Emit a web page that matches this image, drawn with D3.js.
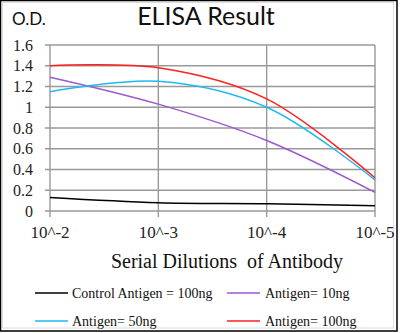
<!DOCTYPE html>
<html><head><meta charset="utf-8">
<script src="https://cdn.jsdelivr.net/npm/d3@7"></script>
<style>body{margin:0;background:#fff}svg{display:block}</style>
</head><body>
<svg id="c" width="400" height="333"></svg>
<script>
const dilutions = ["10^-2","10^-3","10^-4","10^-5"];
const yTicks = [0,0.2,0.4,0.6,0.8,1,1.2,1.4,1.6];
const yTickLabels = ["0","0.2","0.4","0.6","0.8","1","1.2","1.4","1.6"];
const control100 = [0.13,0.08,0.07,0.05];
const antigen10 = [1.29,1.03,0.68,0.18];
const antigen50 = [1.15,1.25,1.0,0.30];
const antigen100 = [1.40,1.38,1.08,0.32];
const seriesNames = ["Control Antigen = 100ng","Antigen= 10ng","Antigen= 50ng","Antigen= 100ng"];
const seriesColors = ["#000000","#9b59d0","#1fb8f0","#ff2020"];
const seriesData = [control100, antigen10, antigen50, antigen100];

const svg = d3.select("#c");
const serif = "'Liberation Serif','Times New Roman',serif";
const sans = "Lato,'Open Sans',sans-serif";

// frame
svg.append("rect").attr("x",0.5).attr("y",0.5).attr("width",396.5).attr("height",330.5)
  .attr("fill","#fff").attr("stroke","#000").attr("stroke-width",1.5);
svg.append("rect").attr("x",2.5).attr("y",2.5).attr("width",391).attr("height",325.5)
  .attr("fill","none").attr("stroke","#ddd").attr("stroke-width",1);

const x = d3.scalePoint().domain(dilutions).range([50,375]);
const y = d3.scaleLinear().domain([0,1.6]).range([211,45]);

const g = svg.append("g");
// horizontal grid
g.selectAll(".hg").data(yTicks).enter().append("line")
  .attr("x1",45).attr("x2",375).attr("y1",d=>y(d)).attr("y2",d=>y(d))
  .attr("stroke","#999").attr("stroke-width",1.4);
// vertical grid
g.selectAll(".vg").data(dilutions).enter().append("line")
  .attr("x1",d=>x(d)).attr("x2",d=>x(d)).attr("y1",45).attr("y2",217)
  .attr("stroke","#999").attr("stroke-width",1.4);

// y tick labels
g.selectAll(".yl").data(yTicks).enter().append("text")
  .attr("x",33).attr("y",d=>y(d)).attr("dy","0.35em").attr("text-anchor","end")
  .attr("font-family",serif).attr("font-size",16).attr("fill","#222")
  .text((d,i)=>yTickLabels[i]);
// x tick labels
g.selectAll(".xl").data(dilutions).enter().append("text")
  .attr("x",d=>x(d)).attr("y",238).attr("text-anchor","middle")
  .attr("font-family",serif).attr("font-size",17).attr("fill","#222")
  .text(d=>d);

// lines
const line = d3.line().x((d,i)=>x(dilutions[i])).y(d=>y(d)).curve(d3.curveCatmullRom.alpha(0.5));
seriesData.forEach((s,i)=>{
  g.append("path").datum(s).attr("d",line).attr("fill","none")
    .attr("stroke",seriesColors[i]).attr("stroke-width",1.5);
});

// titles
svg.append("text").attr("x",12).attr("y",25).attr("font-family",sans).attr("font-size",17)
  .attr("fill","#111").text("O.D.");
svg.append("text").attr("x",206).attr("y",25).attr("text-anchor","middle").attr("font-family",sans)
  .attr("font-size",25).attr("fill","#111").text("ELISA Result");
svg.append("text").attr("x",227).attr("y",268).attr("text-anchor","middle").attr("font-family",serif)
  .attr("font-size",20).attr("fill","#111").style("white-space","pre").text("Serial Dilutions  of Antibody");

// legend
const legPos = [[35,293],[227,293],[35,321],[227,321]];
seriesNames.forEach((n,i)=>{
  const [lx,ly] = legPos[i];
  svg.append("line").attr("x1",lx).attr("x2",lx+33).attr("y1",ly).attr("y2",ly)
    .attr("stroke",seriesColors[i]).attr("stroke-width",1.5);
  svg.append("text").attr("x",lx+(i%2?38:37)).attr("y",ly+5).attr("font-family",serif)
    .attr("font-size",14).attr("fill","#111").text(n);
});
</script>
</body></html>
